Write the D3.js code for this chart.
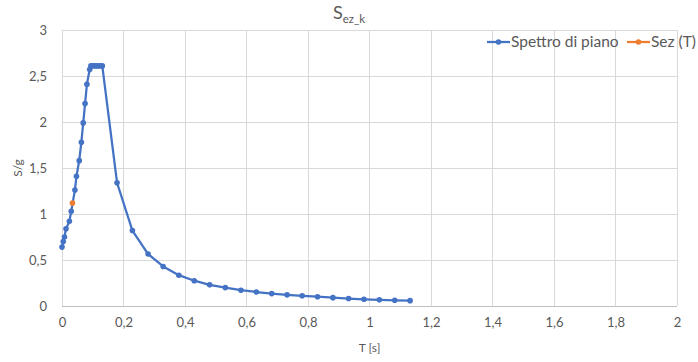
<!DOCTYPE html>
<html>
<head>
<meta charset="utf-8">
<script src="https://cdn.jsdelivr.net/npm/d3@7"></script>
<style>
  html, body { margin: 0; padding: 0; background: #fff; }
  svg { display: block; font-family: Lato, "Open Sans", sans-serif; }
</style>
</head>
<body>
<svg id="chart" width="698" height="362"></svg>
<script>
// ---- data ----
const seriesNames = ["Spettro di piano", "Sez (T)"];
const periodSpettro = [0, 0.004, 0.008, 0.013, 0.024, 0.030, 0.042, 0.047, 0.056, 0.063, 0.069, 0.075, 0.081, 0.090,
  0.094, 0.101, 0.109, 0.116, 0.124, 0.131,
  0.179, 0.229, 0.280, 0.329, 0.380, 0.430, 0.480, 0.531, 0.582, 0.632, 0.682, 0.732, 0.781, 0.831, 0.881, 0.932, 0.982, 1.032, 1.082, 1.132];
const accelSpettro = [0.64, 0.70, 0.75, 0.84, 0.92, 1.03, 1.26, 1.41, 1.58, 1.78, 1.99, 2.20, 2.41, 2.57,
  2.61, 2.61, 2.61, 2.61, 2.61, 2.61,
  1.34, 0.82, 0.565, 0.43, 0.335, 0.275, 0.23, 0.20, 0.172, 0.152, 0.135, 0.121, 0.111, 0.101, 0.091, 0.081, 0.073, 0.067, 0.062, 0.058];
const periodSez = [0.034];
const accelSez = [1.12];
const xTickValues = [0, 0.2, 0.4, 0.6, 0.8, 1, 1.2, 1.4, 1.6, 1.8, 2];
const yTickValues = [0, 0.5, 1, 1.5, 2, 2.5, 3];

// ---- layout ----
const svg = d3.select("#chart");
const mLeft = 62, mRight = 677, mTop = 30, mBottom = 306;
const x = d3.scaleLinear().domain([0, 2]).range([mLeft, mRight]);
const y = d3.scaleLinear().domain([0, 3]).range([mBottom, mTop]);
const itLocale = d3.formatLocale({decimal: ",", thousands: ".", grouping: [3], currency: ["", " €"]});
const fmt = itLocale.format("~g");
const textColor = "#595959";
const gridColor = "#d9d9d9";
const blue = "#4472c4", orange = "#ed7d31";

// gridlines
svg.append("g").selectAll("line").data(yTickValues).join("line")
  .attr("x1", mLeft).attr("x2", mRight)
  .attr("y1", d => y(d)).attr("y2", d => y(d))
  .attr("stroke", d => d === 0 ? "#bfbfbf" : gridColor).attr("stroke-width", 1)
  .attr("shape-rendering", "crispEdges");
svg.append("g").selectAll("line").data(xTickValues).join("line")
  .attr("x1", d => x(d)).attr("x2", d => x(d))
  .attr("y1", mTop).attr("y2", mBottom)
  .attr("stroke", gridColor).attr("stroke-width", 1)
  .attr("shape-rendering", "crispEdges");

// axes (labels only)
const xAxis = d3.axisBottom(x).tickValues(xTickValues).tickFormat(fmt).tickSize(0).tickPadding(12);
const gx = svg.append("g").attr("transform", `translate(0,${mBottom})`).call(xAxis);
gx.select(".domain").remove();
gx.selectAll("text").attr("fill", textColor).attr("font-size", 13).attr("font-family", "Lato, sans-serif");

const yAxis = d3.axisLeft(y).tickValues(yTickValues).tickFormat(fmt).tickSize(0).tickPadding(15);
const gy = svg.append("g").attr("transform", `translate(${mLeft},0)`).call(yAxis);
gy.select(".domain").remove();
gy.selectAll("text").attr("fill", textColor).attr("font-size", 13).attr("font-family", "Lato, sans-serif");

// axis titles
svg.append("text").attr("x", (mLeft + mRight) / 2).attr("y", 352).attr("text-anchor", "middle")
  .attr("fill", textColor).attr("font-size", 12).text("T [s]");
svg.append("text").attr("transform", `translate(22,${(mTop + mBottom) / 2}) rotate(-90)`)
  .attr("text-anchor", "middle").attr("fill", textColor).attr("font-size", 12).text("S/g");

// title
const title = svg.append("text").attr("x", 349).attr("y", 19).attr("text-anchor", "middle")
  .attr("fill", textColor).attr("font-size", 18);
title.append("tspan").text("S");
title.append("tspan").attr("font-size", 11.5).attr("dy", 4).text("ez_k");

// series
const spettro = periodSpettro.map((t, i) => ({t, s: accelSpettro[i]}));
const sez = periodSez.map((t, i) => ({t, s: accelSez[i]}));
const line = d3.line().x(d => x(d.t)).y(d => y(d.s));

svg.append("path").datum(spettro).attr("d", line)
  .attr("fill", "none").attr("stroke", blue).attr("stroke-width", 2.25).attr("stroke-linejoin", "round");
svg.append("g").selectAll("circle").data(spettro).join("circle")
  .attr("cx", d => x(d.t)).attr("cy", d => y(d.s)).attr("r", 2.8).attr("fill", blue);

svg.append("path").datum(sez).attr("d", line)
  .attr("fill", "none").attr("stroke", orange).attr("stroke-width", 2.25);
svg.append("g").selectAll("circle").data(sez).join("circle")
  .attr("cx", d => x(d.t)).attr("cy", d => y(d.s)).attr("r", 2.8).attr("fill", orange);

// legend
const legend = svg.append("g").attr("transform", "translate(0,42)");
const legendItems = [
  {name: seriesNames[0], color: blue, x0: 487},
  {name: seriesNames[1], color: orange, x0: 627}
];
legendItems.forEach(item => {
  legend.append("line").attr("x1", item.x0).attr("x2", item.x0 + 23).attr("y1", 0).attr("y2", 0)
    .attr("stroke", item.color).attr("stroke-width", 2.25);
  legend.append("circle").attr("cx", item.x0 + 11.5).attr("cy", 0).attr("r", 2.8).attr("fill", item.color);
  legend.append("text").attr("x", item.x0 + 24).attr("y", 0).attr("dy", "0.35em")
    .attr("fill", textColor).attr("font-size", 15.5).text(item.name);
});
</script>
</body>
</html>
